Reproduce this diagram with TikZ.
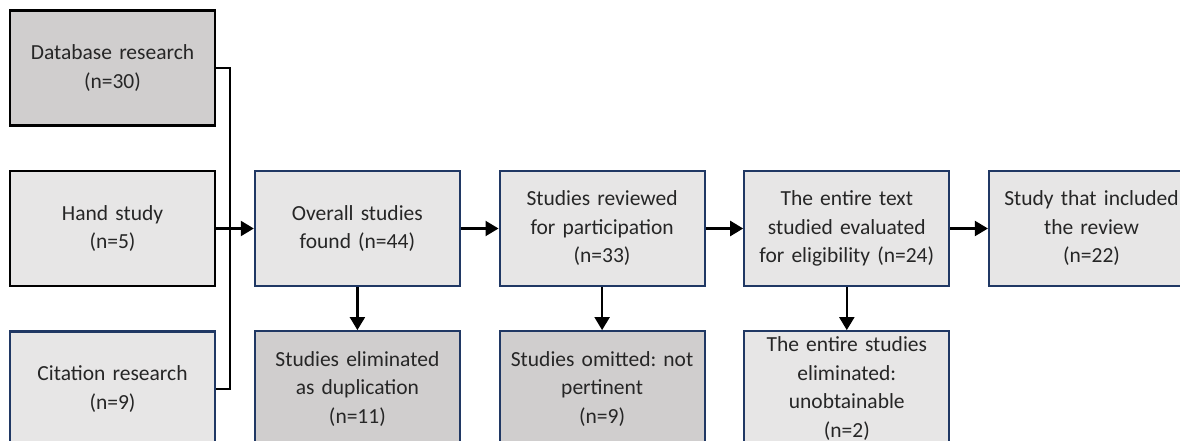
\documentclass[tikz,border=0pt]{standalone}
\usepackage{fontspec}
\setmainfont{Carlito}
\usetikzlibrary{arrows.meta,positioning}
\definecolor{navy}{HTML}{203864}
\definecolor{boxlight}{HTML}{E7E6E6}
\definecolor{boxdark}{HTML}{D0CECE}
\definecolor{ink}{HTML}{262626}

\begin{document}
\frenchspacing
\begin{tikzpicture}[x=1pt,y=1pt,node distance=43pt and 37.5pt,
  box/.style={draw=navy,line width=2.2pt,fill=boxlight,minimum width=205pt,minimum height=115pt,
    text width=203pt,inner sep=0pt,align=center,font=\fontsize{21.5}{28.5}\selectfont,text=ink},
  dark/.style={fill=boxdark},
  blk/.style={draw=black,line width=2.6pt},
  arr/.style={line width=2.2pt,-{Triangle[length=13pt,width=15pt]}}]
\useasboundingbox (0,0) rectangle (1180,-441);
\clip (0,0) rectangle (1180,-441);
% sources
\node[box,blk](B) at (112.5,-228.5){Hand study\\(n=5)};
\node[box,blk,dark](A)[above=of B]{Database research\\(n=30)};
\node[box](C)[below=of B]{Citation research\\(n=9)};
% main flow
\node[box](D)[right=of B]{Overall studies\\found (n=44)};
\node[box](E)[right=of D]{Studies reviewed\\for participation\\(n=33)};
\node[box](F)[right=of E]{The entire text\\studied evaluated\\for eligibility (n=24)};
\node[box](G)[right=of F]{Study that included\\the review\\(n=22)};
% exclusions
\node[box,dark](H)[below=of D]{Studies eliminated\\as duplication\\(n=11)};
\node[box,dark](I)[below=of E]{Studies omitted: not\\pertinent\\(n=9)};
\node[box](J)[below=of F]{The entire studies\\eliminated:\\unobtainable\\(n=2)};
\draw[line width=2.2pt](A.east)--++(14,0)|-(C.east);
\draw[arr](B)--(D);\draw[arr](D)--(E);\draw[arr](E)--(F);\draw[arr](F)--(G);
\draw[arr](D)--(H);\draw[arr](E)--(I);\draw[arr](F)--(J);
\end{tikzpicture}
\end{document}
